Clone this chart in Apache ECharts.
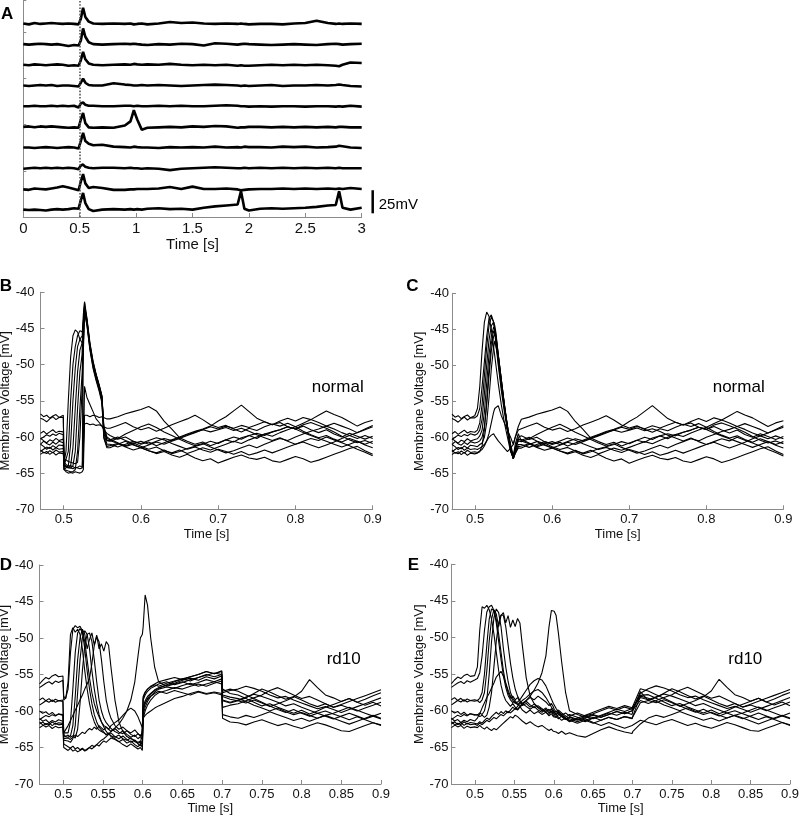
<!DOCTYPE html>
<html>
<head>
<meta charset="utf-8">
<script src="https://cdn.jsdelivr.net/npm/echarts@6/dist/echarts.min.js"></script>
<style>html,body{margin:0;padding:0;background:#fff}#c{width:800px;height:816px}</style>
</head>
<body>
<div id="c"></div>
<script>
// ---------- Panel A: 10 stacked traces, 0..3 s (membrane voltage, mV) ----------
const tA = [0,0.05,0.1,0.15,0.2,0.25,0.3,0.35,0.4,0.45, 0.49,0.51,0.53,0.55,0.58,0.62, 0.7,0.8,0.9, 0.95,0.98,1.01,1.05, 1.1,1.2,1.3,1.4,1.5,1.6,1.7,1.8,1.9, 1.93,1.96, 2.0,2.1,2.2,2.3,2.4,2.5,2.6,2.7, 2.77,2.8,2.83, 2.9,3.0];
const a1 = [-60,-61,-59.5,-60.5,-60,-59.5,-60,-60.5,-60,-60.5, -61,-55,-43,-53,-58,-60, -60.5,-60,-60.5, -60,-61,-60.5,-60, -61,-60,-58.5,-59.5,-59,-60,-60.5,-60,-60.5, -60,-60.5, -61,-60.5,-60.5,-61,-60,-59.5,-57,-59.5, -60.5,-60,-60.5, -60,-60.5];
const a2 = [-60,-60.5,-60,-59.5,-60,-60.5,-60,-61,-62,-61, -61.5,-56,-43,-52,-58,-60, -60.5,-60,-59.5, -60,-59.5,-60,-60.5, -61,-60,-60.5,-59.5,-60,-61.5,-59,-59.5,-60.5, -60,-59.5, -60,-60.5,-61,-60.5,-60,-60.5,-61,-60, -59.5,-60,-60.5, -60,-59.5];
const a3 = [-60,-60.5,-59.5,-60,-60.5,-60,-59.5,-60,-61,-60.5, -61,-55,-46,-54,-58.5,-60, -60.5,-60,-59.5, -60,-59,-59.5,-60, -59.5,-60,-59,-60,-60.5,-60,-60.5,-60,-61, -60.5,-61, -61,-60.5,-60,-60.5,-60,-60.5,-60,-60.5, -61,-61.5,-60, -57.5,-58];
const a4 = [-60,-60.5,-60,-59.5,-60,-59.5,-60.5,-60,-60,-60.5, -61,-57,-52.5,-57,-59.5,-60, -60,-57.5,-59, -59.5,-60,-60,-59.5, -60,-59.5,-60,-60.5,-60,-59.5,-59,-59.5,-60, -60.5,-60, -60.5,-60,-59.5,-60.5,-60,-60,-59.5,-60, -59.5,-59,-59.5, -60.5,-61];
const a5 = [-60,-60,-59.5,-60,-60,-59.5,-60,-59.5,-60,-59.5, -61.5,-57,-56,-58.5,-59.5,-59.5, -60,-60,-59.5, -59.5,-60,-59.5,-60, -60,-59.5,-60,-59.5,-60,-60,-59.5,-59,-59.5, -60,-60, -60.5,-60,-60.5,-60,-60,-60.5,-60,-60, -60.5,-60,-60.5, -59.5,-60.5];
const a6 = [-60,-59.5,-60.5,-59.5,-60,-59.5,-60,-60.5,-61,-60.5, -61,-52,-45,-56,-60.5,-61, -60.5,-61,-58.5, -54,-42,-52,-63, -61,-60.5,-60,-60.5,-59.5,-60,-59,-59.5,-61, -60.5,-60.5, -60,-60,-60.5,-60,-60.5,-60,-60.5,-60, -60.5,-60,-60, -60.5,-60.5];
const a7 = [-60,-60,-60.5,-60,-59.5,-60,-60.5,-60,-59.5,-60, -61,-53,-44,-53,-56,-57.5, -57,-59,-59.5, -60,-59,-59.5,-60, -60,-60.5,-59.5,-60,-59.5,-60,-59,-60,-59.5, -60,-59, -59.5,-59.5,-60,-59,-59.5,-59,-60,-59.5, -59,-58,-58.5, -60,-60.5];
const a8 = [-60.5,-60,-59.5,-60,-59.5,-60,-59.5,-60,-59.5,-60, -61,-57,-56,-58.5,-59.5,-60, -59.5,-59.5,-60, -59.5,-60,-60,-60.5, -60,-60.5,-62,-60.5,-60,-59.5,-59,-59.5,-60, -60,-59.5, -60,-59.5,-60,-59.5,-60,-59.5,-60,-59.5, -60,-59.5,-60, -60,-60];
const a9 = [-60.5,-61,-59.5,-60,-60.5,-59.5,-58.5,-57,-58.5,-60, -61.5,-52,-44,-54,-59,-58, -59,-61,-61, -60.5,-60.5,-60,-60, -60,-59.5,-58,-60,-57.5,-60,-60,-59.5,-60.5, -61.5,-61, -60.5,-60,-60,-59.5,-60,-59.5,-60,-59.5, -60,-59.5,-60, -59,-60];
const a10 = [-60,-60.5,-60,-60.5,-61,-60,-59.5,-60,-59.5,-58.5, -59,-50,-42,-53,-59.5,-61.5, -60,-59.5,-60, -59.5,-60,-59.5,-60, -59,-58.5,-59.5,-59,-60,-58,-56.5,-55.5,-54.5, -40,-59, -61,-59,-58.5,-59,-58.5,-58,-57,-55.5, -55,-40,-58, -60,-58];
const aTraces = [a1,a2,a3,a4,a5,a6,a7,a8,a9,a10];
const aXTicks = [0,0.5,1,1.5,2,2.5,3];

// ---------- Shared pre-stimulus time base (B-E) ----------
const tPre = [0.47,0.474,0.478,0.482,0.486,0.49,0.494,0.4995];

// ---------- normal (B, C) ----------
const nPre = [
 [-56.8,-57.2,-57.0,-57.4,-57.1,-56.9,-57.3,-57.0],
 [-57.4,-57.6,-57.9,-57.5,-57.2,-57.6,-57.3,-57.3],
 [-59.5,-59.2,-59.6,-59.3,-59.0,-59.4,-59.2,-59.3],
 [-60.3,-60.0,-59.7,-59.9,-59.6,-59.8,-59.5,-59.7],
 [-61.0,-60.6,-60.8,-60.4,-60.6,-60.2,-60.5,-60.3],
 [-60.2,-60.5,-60.9,-61.1,-60.7,-61.0,-60.6,-60.8],
 [-62.0,-61.7,-61.4,-61.6,-61.2,-61.5,-61.1,-61.2],
 [-61.0,-61.3,-61.7,-61.4,-61.8,-61.5,-61.7,-61.6],
 [-62.4,-62.1,-62.3,-61.9,-62.2,-61.8,-62.1,-62.0],
 [-61.8,-62.2,-62.0,-62.4,-62.1,-62.5,-62.2,-62.3]
];
const tNSpike = [0.5005,0.503,0.506,0.509,0.512,0.515,0.518,0.521,0.524,0.5255,0.527,0.53,0.534,0.538,0.542,0.546,0.5495,0.552,0.556];
const bSpike = [
 [-63.5,-62,-55,-49,-46,-45.2,-45.5,-46.5,-47,-63,-53,-54.5,-55.5,-56.5,-57.5,-58,-58.5,-59,-59.5],
 [-64,-64,-62,-55,-50,-47.5,-46,-45.3,-45.5,-44,-42,-44,-47.5,-50,-51.5,-53,-54.5,-59,-60.5],
 [-64.5,-64.5,-64,-61,-55,-50.5,-47.5,-46.5,-46,-43,-41.3,-43.5,-47,-49.5,-51.3,-52.8,-54.3,-58.5,-60],
 [-63.5,-63.8,-64,-64,-61.5,-56,-51,-48,-47,-44,-41.5,-43.8,-47.3,-49.8,-51.5,-53,-54.5,-59,-60.5],
 [-64,-64,-64.2,-64.3,-64,-62,-56,-51,-48.5,-45,-42,-44,-47.5,-50,-51.6,-53.2,-54.8,-59.5,-61],
 [-64.5,-64.6,-64.7,-64.8,-64.8,-64.5,-62,-56,-51,-47,-42.5,-44.3,-47.8,-50.3,-52,-53.5,-55,-60,-61.3],
 [-63,-63.2,-63.4,-63.5,-63.6,-63.7,-63.5,-60,-53,-48,-43,-44.5,-48,-50.5,-52.2,-53.7,-55.3,-60.2,-61.5],
 [-64.5,-64.8,-65,-64.9,-65,-64.8,-64.9,-65,-64.8,-64.5,-57,-57,-57.2,-57,-57.1,-57.3,-57.2,-57.4,-57.5],
 [-63.8,-64,-64.2,-64,-64.1,-64.3,-64.2,-64,-64.2,-64,-58.2,-58.1,-58.3,-58.2,-58.4,-58.3,-58.5,-58.6,-58.8],
 [-64,-64.2,-64.3,-64.3,-64.4,-64.2,-64.3,-64.4,-64.3,-47,-42,-43.7,-47.2,-49.6,-51.4,-52.9,-54.4,-58.8,-60.2]
];
const cSpike = [
 [-57,-56,-53,-48,-44,-42.6,-43.2,-45,-47.5,-48.7,-50,-52.5,-55.5,-58,-60,-62,-62.8,-61.5,-60],
 [-57.3,-57,-56,-53,-49.5,-46,-43.5,-43,-44,-45.5,-47,-50,-53.5,-56.5,-59,-61.5,-62.7,-61,-59.5],
 [-59.3,-59,-58,-55.5,-51.5,-47.5,-44.5,-43.3,-44,-45,-46.5,-49.5,-53,-56,-58.5,-61,-62.5,-61.5,-60.3],
 [-59.7,-59.5,-59,-57.5,-54,-50,-46.5,-44.5,-44,-44.5,-45.5,-48.5,-52,-55.5,-58.5,-61.3,-62.9,-61.8,-60.5],
 [-60.3,-60.2,-59.8,-59,-56.5,-52.5,-48.5,-46,-44.7,-45,-45.8,-48.5,-52,-55.5,-58.5,-61.5,-63,-62,-61],
 [-60.8,-60.7,-60.5,-60,-58.5,-55.5,-51.5,-48,-46,-45.7,-46.3,-48.8,-52.3,-55.7,-58.8,-61.7,-63,-62.2,-61.3],
 [-61.2,-61.3,-61,-60.8,-60,-58,-54.5,-50.5,-47.5,-46.6,-46.8,-49,-52.5,-56,-59,-61.8,-63,-62.3,-61.5],
 [-61.6,-61.7,-61.5,-61.3,-61,-60.5,-59.5,-58,-56.5,-56,-55.8,-55.6,-57,-58,-59,-60,-61,-60,-58.5],
 [-62,-62.1,-61.9,-61.7,-61.2,-60.5,-60,-59.7,-59.5,-59.8,-60,-60.5,-61,-61.5,-62,-61.5,-61,-60,-59],
 [-62.3,-62.2,-62,-61.2,-59,-55,-50.5,-47,-45.2,-45.3,-46,-48.5,-52,-55.5,-58.5,-61.5,-62.8,-61.8,-60.2]
];
const tNLate = [0.56,0.57,0.58,0.59,0.6, 0.61,0.62,0.63,0.64,0.65, 0.66,0.67,0.68,0.69,0.7, 0.71,0.72,0.73,0.74,0.75, 0.76,0.77,0.78,0.79,0.8, 0.81,0.82,0.83,0.84,0.85, 0.86,0.87,0.88,0.89,0.9];
const nLate = [
 [-59.8,-60.3,-60.0,-60.6,-61.0, -60.7,-61.2,-60.8,-60.4,-60.0, -59.6,-59.2,-58.9,-58.5,-57.8, -57.2,-56.4,-55.6,-56.5,-57.4, -57.9,-58.3,-58.0,-58.6,-58.9, -58.5,-59.0,-59.4,-59.0,-59.6, -60.0,-59.5,-59.9,-60.3,-59.9],
 [-60.5,-60.9,-61.2,-60.8,-61.3, -61.7,-61.4,-61.9,-62.2,-61.8, -62.3,-61.9,-61.5,-61.8,-61.4, -61.0,-60.6,-60.9,-60.4,-60.0, -59.6,-59.9,-59.4,-59.0,-58.6, -58.1,-57.6,-57.0,-56.4,-56.9, -57.3,-57.9,-58.5,-58.0,-57.7],
 [-60.3,-60.8,-61.3,-61.0,-61.5, -61.9,-62.2,-61.8,-62.3,-62.0, -61.6,-61.3,-61.0,-60.6,-60.9, -60.4,-60.0,-60.3,-59.8,-59.5, -59.8,-59.3,-59.0,-58.6,-58.9, -59.4,-59.8,-60.2,-60.6,-61.0, -61.4,-61.0,-60.6,-61.1,-61.5],
 [-60.6,-60.2,-59.6,-59.1,-58.6, -58.2,-58.7,-59.3,-59.8,-60.3, -60.8,-61.2,-60.9,-61.4,-61.8, -62.2,-61.9,-61.5,-61.1,-61.5, -61.0,-60.6,-60.2,-60.5,-60.0, -59.6,-59.2,-58.9,-58.5,-58.1, -58.5,-58.9,-59.4,-59.0,-58.6],
 [-61.0,-61.4,-61.0,-60.6,-60.9, -60.5,-60.1,-60.4,-60.9,-61.3, -61.7,-61.4,-61.8,-62.1,-61.7, -62.0,-62.4,-62.0,-62.5,-62.2, -61.8,-62.2,-61.8,-61.4,-61.0, -60.6,-60.2,-60.5,-60.0,-60.4, -60.8,-61.2,-61.7,-62.1,-62.6],
 [-61.2,-60.9,-61.4,-61.8,-61.5, -61.1,-60.7,-61.0,-60.6,-60.2, -59.8,-59.4,-59.0,-59.3,-59.0, -58.7,-59.1,-58.8,-59.2,-59.7, -60.1,-60.5,-60.1,-60.6,-61.0, -60.7,-61.1,-61.5,-61.1,-60.7, -60.2,-59.8,-59.4,-58.9,-58.4],
 [-61.5,-61.0,-60.6,-61.1,-61.5, -61.9,-62.3,-62.0,-62.5,-62.8, -62.4,-62.9,-63.3,-63.0,-63.6, -63.2,-62.8,-62.5,-62.9,-63.1, -62.8,-63.3,-63.5,-63.1,-62.7, -63.0,-63.5,-63.2,-62.8,-62.4, -62.0,-61.6,-61.3,-61.9,-62.4],
 [-57.5,-57.2,-56.8,-56.5,-56.2, -55.8,-56.4,-57.8,-58.9,-60.1, -60.6,-61.0,-60.7,-61.2,-60.8, -60.4,-60.7,-60.1,-59.8,-60.2, -59.6,-59.3,-59.0,-58.6,-58.9, -58.3,-58.0,-58.4,-58.8,-59.3, -59.9,-60.4,-60.8,-60.5,-60.9],
 [-58.8,-58.4,-58.0,-58.6,-59.0, -58.7,-59.2,-58.8,-58.3,-57.9, -57.5,-57.0,-57.6,-58.3,-58.7, -58.4,-58.9,-59.3,-58.8,-59.1, -58.6,-58.2,-58.5,-58.1,-58.6, -59.2,-59.7,-60.1,-59.8,-60.3, -60.7,-60.2,-60.6,-61.0,-60.6],
 [-60.4,-60.0,-60.5,-60.9,-60.6, -61.0,-60.6,-60.2,-60.5,-60.1, -59.7,-59.3,-59.0,-58.6,-58.9, -58.5,-58.8,-58.4,-58.7,-58.3, -57.9,-58.3,-57.8,-57.4,-57.8, -57.3,-57.6,-58.0,-58.5,-58.9, -59.4,-59.8,-60.2,-59.8,-60.2]
];
const bcXTicks = [0.5,0.6,0.7,0.8,0.9];

// ---------- rd10 (D, E) ----------
const rPre = [
 [-56.3,-55.8,-55.4,-55.6,-55.2,-55.0,-55.3,-55.2],
 [-56.8,-56.5,-56.2,-56.0,-56.3,-55.9,-56.1,-55.8],
 [-58.5,-58.2,-58.6,-58.3,-58.7,-58.4,-58.6,-58.5],
 [-59.2,-58.9,-58.6,-58.8,-58.5,-58.8,-58.6,-58.7],
 [-60.0,-60.3,-60.1,-60.5,-60.2,-60.6,-60.4,-60.5],
 [-61.2,-60.9,-60.6,-60.8,-60.5,-60.7,-60.4,-60.6],
 [-61.0,-61.4,-61.2,-61.6,-61.3,-61.5,-61.2,-61.4],
 [-61.8,-61.5,-61.9,-61.6,-62.0,-61.7,-61.9,-61.8],
 [-62.3,-62.0,-61.7,-61.9,-61.5,-61.8,-61.6,-61.7],
 [-61.5,-61.9,-62.2,-62.0,-62.4,-62.1,-62.3,-62.2]
];
const tRMid = [0.5005,0.503,0.506,0.509,0.512,0.515,0.518,0.521,0.524,0.527,0.53,0.533,0.536,0.539,0.542,0.545,0.548,0.551,0.554,0.557, 0.56,0.565,0.57,0.575,0.58,0.585,0.59, 0.594,0.597,0.5995, 0.6005,0.603,0.606,0.61,0.615,0.62, 0.63,0.64,0.65,0.66,0.67,0.68,0.69, 0.6995,0.7005,0.71];
const dMid = [
 [-58.0,-58.3,-56,-49.5,-48.6,-49.2,-48.8,-49.5,-51.5,-54.5,-57,-59,-60.5,-61.5,-62.2,-62.6,-62.8,-63,-63.2,-63.1, -63.4,-63.6,-63.3,-63.8,-64.0,-63.7,-64.2, -64.4,-64.3,-64.6, -59.5,-58.6,-58.0,-57.6,-57.1,-56.8, -56.5,-56.2,-55.8,-55.5,-55.8,-55.3,-55.6, -55.2,-57.5,-57.2],
 [-58.5,-58.2,-57,-52,-48.8,-48.3,-48.6,-48.4,-49,-50.5,-53,-55.5,-57.5,-59,-60,-60.8,-61.5,-62,-62.2,-62.5, -62.8,-62.4,-62.9,-63.1,-62.7,-63.2,-63.5, -63.1,-63.4,-63.0, -58.0,-57.4,-57.0,-56.7,-56.4,-56.6, -56.2,-55.9,-55.6,-55.9,-55.4,-55.1,-54.8, -55.0,-58.5,-58.8],
 [-63.0,-63.2,-63.0,-61.5,-57,-52,-49.3,-48.7,-49.2,-51.5,-54.5,-57.0,-59.0,-60.5,-61.5,-62.2,-62.6,-62.9,-63.3,-63.0, -63.5,-63.8,-64.2,-63.9,-64.4,-64.1,-64.6, -64.9,-64.5,-65.0, -60.5,-59.5,-58.7,-58.0,-57.4,-57.0, -56.7,-56.9,-56.5,-56.2,-56.6,-56.3,-56.0, -56.3,-59.5,-59.2],
 [-63.5,-63.3,-63.6,-63.4,-62,-58,-53,-50,-48.8,-49.5,-51.5,-50.2,-49.3,-51,-49.6,-51.5,-50.8,-51.8,-50.5,-51, -54,-58.5,-61.5,-62.8,-63.5,-63.8,-64.0, -64.3,-64.1,-64.4, -60.0,-59.0,-58.3,-57.7,-57.2,-56.9, -56.4,-56.0,-55.6,-55.3,-55.0,-54.6,-54.9, -54.6,-57.0,-57.6],
 [-64.0,-64.2,-64.1,-64.3,-63.8,-62,-57.5,-53,-50,-49.0,-49.5,-51.5,-54.5,-57.0,-59.0,-60.5,-61.5,-62.2,-62.8,-63.2, -63.0,-63.5,-63.8,-63.4,-63.9,-64.3,-64.0, -64.5,-64.8,-64.6, -61.0,-60.0,-59.2,-58.5,-57.9,-57.5, -57.2,-56.8,-57.0,-56.6,-56.3,-56.6,-56.2, -55.9,-58.0,-58.4],
 [-63.2,-63.5,-63.3,-63.6,-63.4,-63.7,-62.5,-59,-54.5,-51,-49.5,-49.3,-50.5,-53,-56,-58.5,-60.0,-61.0,-61.6,-62.0, -62.4,-62.8,-63.1,-62.7,-63.2,-63.6,-63.3, -63.8,-63.5,-63.9, -59.8,-58.9,-58.4,-58.0,-57.6,-57.3, -57.6,-57.2,-57.5,-57.8,-57.4,-57.7,-57.5, -57.8,-61.0,-61.5],
 [-63.0,-62.8,-62.0,-61.3,-60.6,-59.9,-59.2,-58.5,-57.8,-57.0,-56.3,-55.5,-53.5,-51,-49.8,-50.5,-53,-56,-58.5,-60.0, -61.0,-62.0,-62.5,-62.2,-62.7,-63.0,-62.6, -63.1,-63.4,-63.0, -58.5,-57.8,-57.3,-56.9,-56.6,-56.3, -56.0,-56.4,-56.1,-55.7,-55.4,-55.0,-55.3, -55.0,-57.8,-58.1],
 [-64.5,-64.7,-64.9,-65.1,-64.8,-65.2,-65.0,-65.3,-65.1,-65.4,-65.2,-65.0,-64.7,-64.9,-64.6,-64.3,-64.0,-63.8,-63.5,-63.2, -62.8,-62.3,-61.8,-61.0,-60.0,-58.5,-56.0, -52.5,-50.0,-49.5, -48.5,-44.1,-45.5,-50.0,-54.0,-56.0, -56.6,-56.3,-56.0,-56.4,-56.1,-55.7,-56.0, -55.6,-58.6,-58.9],
 [-63.8,-64.0,-63.7,-63.9,-63.6,-63.3,-63.5,-63.2,-62.9,-63.1,-62.7,-62.4,-62.6,-62.2,-62.5,-62.0,-62.3,-62.6,-62.2,-62.5, -62.0,-61.6,-61.2,-60.6,-60.0,-59.6,-60.0, -60.8,-61.6,-62.3, -58.2,-57.5,-57.0,-56.6,-56.3,-56.0, -55.7,-55.4,-55.7,-55.3,-55.0,-54.6,-54.9, -54.5,-57.3,-57.0],
 [-65.0,-65.2,-65.4,-65.1,-65.5,-65.3,-65.6,-65.4,-65.2,-65.5,-65.3,-65.0,-65.2,-64.9,-64.6,-64.8,-64.4,-64.1,-64.3,-64.0, -63.7,-63.9,-64.2,-64.6,-64.9,-64.5,-64.9, -65.2,-65.0,-65.4, -61.0,-60.6,-60.3,-60.0,-59.6,-59.3, -58.8,-58.3,-58.0,-57.6,-57.3,-57.6,-57.4, -57.6,-60.5,-60.8]
];
const eMid = [
 [-55.0,-54,-49,-45.8,-46.0,-45.6,-46.2,-47.5,-49.5,-52,-54.5,-56.5,-57.8,-58.6,-59.0,-59.4,-59.0,-59.5,-59.8,-59.4, -59.9,-60.3,-59.9,-60.4,-60.1,-60.5,-60.2, -60.7,-60.4,-60.8, -60.6,-60.9,-60.5,-60.8,-61.2,-60.8, -61.2,-60.8,-61.1,-60.7,-60.3,-60.6,-60.2, -60.5,-60.0,-57.6],
 [-55.9,-55.6,-54.8,-52.5,-49,-46.5,-45.8,-45.6,-46.3,-48.0,-50.5,-53.0,-55.2,-56.8,-57.9,-58.5,-58.9,-58.6,-59.1,-59.4, -59.0,-59.4,-59.8,-59.4,-59.9,-60.2,-59.8, -60.3,-60.0,-60.4, -60.2,-60.6,-60.2,-60.6,-60.3,-60.7, -60.3,-60.7,-60.4,-60.0,-59.6,-59.9,-59.5, -59.8,-59.5,-58.2],
 [-58.4,-58.6,-58.3,-57.5,-55.0,-51.0,-47.5,-46.1,-46.3,-47.5,-49.5,-52.0,-54.5,-56.3,-57.5,-58.3,-58.0,-58.5,-58.2,-58.7, -59.1,-58.7,-59.2,-59.6,-59.3,-59.7,-60.1, -59.8,-60.2,-59.9, -60.3,-60.0,-60.4,-60.8,-61.2,-60.9, -61.3,-61.0,-60.6,-60.9,-60.5,-60.1,-60.4, -60.0,-59.8,-58.6],
 [-58.8,-58.6,-58.9,-58.5,-57.5,-54.5,-50.5,-47.5,-46.2,-46.8,-48.5,-47.0,-46.6,-48.0,-47.0,-48.6,-47.6,-48.5,-47.4,-48.0, -51.0,-55.5,-58.0,-59.0,-59.5,-59.8,-60.2, -60.5,-60.1,-60.6, -60.4,-60.8,-61.1,-60.7,-61.1,-61.5, -61.1,-61.5,-61.0,-60.6,-60.2,-59.8,-60.1, -59.7,-59.5,-57.9],
 [-60.4,-60.6,-60.3,-60.5,-60.0,-58.5,-55,-50.5,-47.3,-46.1,-46.6,-48.5,-51.5,-54.0,-56.0,-57.5,-58.3,-58.8,-59.2,-58.8, -59.3,-59.0,-59.5,-59.1,-59.6,-60.0,-59.6, -60.1,-59.7,-60.2, -60.0,-60.5,-60.1,-60.5,-60.9,-60.5, -60.9,-61.3,-60.9,-61.3,-60.9,-61.2,-60.8, -61.1,-60.8,-58.9],
 [-60.7,-60.5,-60.8,-60.6,-60.9,-60.6,-59.5,-57.5,-54,-50.5,-48,-46.9,-47.0,-48.5,-51.0,-53.5,-55.5,-57.0,-58.0,-58.6, -59.0,-58.6,-58.2,-58.5,-58.0,-58.4,-58.8, -59.3,-59.0,-59.5, -59.8,-60.2,-59.9,-60.3,-60.7,-61.1, -61.5,-61.1,-61.6,-62.0,-61.6,-62.0,-62.4, -62.0,-61.8,-61.3],
 [-61.3,-61.0,-60.4,-59.6,-58.9,-58.2,-57.6,-56.9,-56.2,-55.4,-55.0,-54.6,-55.3,-56.2,-57.2,-58.0,-58.6,-59.0,-58.8,-58.5, -58.0,-57.2,-56.4,-55.9,-55.6,-55.8,-56.6, -57.6,-58.4,-59.0, -59.2,-59.7,-60.1,-60.6,-61.0,-61.3, -61.7,-61.3,-61.7,-61.3,-60.9,-61.2,-60.8, -61.0,-60.7,-58.0],
 [-61.8,-62.0,-61.7,-61.9,-61.6,-61.3,-61.5,-61.2,-60.9,-61.1,-60.8,-60.5,-60.7,-60.4,-60.1,-60.3,-60.0,-59.7,-59.9,-59.5, -59.2,-58.6,-58.0,-57.2,-56.2,-54.8,-52.5, -48.5,-46.3,-46.2, -46.4,-47.0,-49.5,-53.3,-57.5,-60.0, -60.5,-60.9,-60.5,-60.9,-60.5,-60.1,-60.4, -60.0,-59.8,-57.4],
 [-61.6,-61.8,-61.5,-61.7,-61.3,-61.0,-61.2,-60.8,-60.5,-60.2,-60.5,-60.1,-60.4,-60.0,-60.3,-59.9,-59.5,-59.8,-59.4,-59.0, -58.6,-58.2,-57.7,-57.3,-57.1,-57.5,-58.2, -58.9,-59.5,-59.9, -60.1,-60.5,-60.9,-61.3,-61.0,-61.4, -61.0,-60.6,-60.2,-59.8,-59.4,-59.7,-59.3, -59.6,-59.4,-57.0],
 [-62.1,-62.3,-62.0,-62.3,-62.5,-62.2,-62.5,-62.7,-62.4,-62.6,-62.3,-62.0,-61.7,-61.4,-61.1,-60.8,-61.0,-60.6,-60.8,-61.1, -61.4,-61.8,-61.5,-61.9,-62.2,-62.0,-62.4, -62.7,-62.5,-62.8, -62.6,-62.9,-63.1,-62.8,-63.2,-63.0, -63.4,-63.6,-63.1,-62.6,-62.2,-62.6,-62.9, -63.1,-62.8,-61.8]
];
const tRLate = [0.72,0.73,0.74,0.75,0.76,0.77,0.78,0.79,0.8,0.81,0.82,0.83,0.84,0.85,0.86,0.87,0.88,0.89,0.9];
const rLate = [
 [-57.0,-56.6,-56.9,-57.3,-57.8,-58.2,-58.0,-58.5,-58.9,-59.3,-59.7,-59.4,-59.8,-60.2,-59.8,-59.4,-59.0,-58.6,-58.2],
 [-58.5,-58.1,-57.7,-58.0,-58.4,-58.8,-59.3,-59.0,-59.5,-59.9,-60.3,-60.0,-60.4,-60.8,-61.2,-60.8,-61.2,-61.6,-62.0],
 [-59.0,-58.6,-58.2,-57.8,-57.2,-56.8,-57.3,-57.8,-58.3,-58.0,-58.5,-59.0,-59.5,-59.2,-59.6,-60.0,-59.6,-59.2,-58.8],
 [-57.8,-58.3,-58.8,-59.3,-59.0,-59.5,-59.9,-60.3,-59.9,-60.4,-60.0,-59.5,-59.1,-58.7,-58.3,-58.8,-58.4,-57.9,-57.5],
 [-58.6,-58.9,-58.5,-58.9,-59.4,-59.0,-58.6,-58.1,-57.3,-55.7,-56.8,-57.8,-58.2,-58.7,-58.3,-58.8,-59.2,-58.8,-59.3],
 [-61.6,-61.9,-61.5,-61.2,-61.6,-62.0,-61.7,-62.1,-62.4,-62.0,-61.6,-61.9,-62.3,-62.7,-62.8,-62.4,-62.0,-61.6,-61.9],
 [-58.3,-58.7,-59.2,-59.6,-60.0,-59.6,-60.1,-60.5,-60.2,-60.6,-61.0,-60.6,-60.3,-59.9,-59.5,-59.9,-60.3,-60.7,-61.1],
 [-58.6,-58.2,-57.6,-57.0,-57.4,-57.9,-58.4,-58.0,-58.5,-59.0,-59.4,-59.0,-59.5,-59.1,-58.7,-58.3,-57.9,-57.5,-57.1],
 [-57.3,-57.8,-58.3,-58.8,-59.3,-59.8,-60.2,-59.8,-60.3,-60.7,-60.3,-60.7,-61.1,-60.7,-60.3,-60.7,-61.1,-60.7,-60.3],
 [-61.0,-60.6,-60.9,-60.5,-60.1,-60.5,-60.9,-61.3,-61.0,-61.4,-61.0,-60.6,-61.0,-61.4,-61.8,-61.4,-61.0,-60.6,-61.0]
];
const deXTicks = [0.5,0.55,0.6,0.65,0.7,0.75,0.8,0.85,0.9];

// ---------- build ----------
const FONT = "'Liberation Sans', Arial, Helvetica, sans-serif";
const AX = '#8a8a8a', TX = '#111';
const zip = (t, v) => t.map((x, i) => [x, v[i]]);
const chart = echarts.init(document.getElementById('c'), null, {renderer: 'canvas'});

const grids = [
  {left: 23.3, top: 0, width: 338.4, height: 217},
  {left: 40.5, top: 292.3, width: 332.2, height: 217},
  {left: 452, top: 293.3, width: 331.4, height: 216},
  {left: 39.5, top: 565, width: 341.5, height: 219},
  {left: 451.4, top: 564.3, width: 338.6, height: 219.7}
].map(g => Object.assign({outerBoundsMode: 'none', containLabel: false, show: false}, g));

function xAx(gi, ticks, gap, fs) {
  return {
    gridIndex: gi, type: 'value', min: gi === 0 ? 0 : 0.47, max: gi === 0 ? 3 : 0.9,
    interval: gi === 0 ? 0.5 : undefined,
    axisLine: {show: true, onZero: false, lineStyle: {color: AX, width: 1}},
    axisTick: {show: true, inside: true, length: 4, customValues: ticks, lineStyle: {color: AX}},
    axisLabel: {show: true, customValues: ticks, color: TX, fontSize: fs, fontFamily: FONT, margin: 4},
    splitLine: {show: false},
    name: 'Time [s]', nameLocation: 'middle', nameGap: gap,
    nameTextStyle: {color: TX, fontSize: fs, fontFamily: FONT}
  };
}
function yAx(gi, margin, gap) {
  return {
    gridIndex: gi, type: 'value', min: -70, max: -40, interval: 5,
    axisLine: {show: true, onZero: false, lineStyle: {color: AX, width: 1}},
    axisTick: {show: true, inside: true, length: 4, lineStyle: {color: AX}},
    axisLabel: {show: true, color: TX, fontSize: 13, fontFamily: FONT, margin: margin},
    splitLine: {show: false},
    name: 'Membrane Voltage [mV]', nameLocation: 'middle', nameGap: gap, nameRotate: 90,
    nameTextStyle: {color: TX, fontSize: 13, fontFamily: FONT}
  };
}
const xAxis = [xAx(0, aXTicks, 19, 15), xAx(1, bcXTicks, 19, 13), xAx(2, bcXTicks, 19, 13), xAx(3, deXTicks, 16, 13), xAx(4, deXTicks, 16, 13)];
const yAxis = [
  {gridIndex: 0, type: 'value', min: 0, max: 235, interval: 50,
   axisLine: {show: true, onZero: false, lineStyle: {color: AX, width: 1}},
   axisTick: {show: true, inside: true, length: 3, lineStyle: {color: AX}},
   axisLabel: {show: false}, splitLine: {show: false}},
  yAx(1, 6, 27), yAx(2, 3, 25), yAx(3, 6, 25.5), yAx(4, 3, 25)
];

const series = [];
aTraces.forEach((tr, i) => {
  const off = 60 + 8 + (9 - i) * 22.4;   // stacking offset of trace i
  const s = {
    type: 'line', xAxisIndex: 0, yAxisIndex: 0, symbol: 'none', silent: true, z: 3,
    lineStyle: {color: '#000', width: 2.6}, data: tA.map((t, j) => [t, tr[j] + off])
  };
  if (i === 0) {
    s.markLine = {silent: true, symbol: ['none', 'none'], label: {show: false},
      lineStyle: {type: 'dotted', color: '#555', width: 1.6}, data: [{xAxis: 0.5}]};
  }
  series.push(s);
});
function addPanel(gi, pre, mid, late, tMid, tLate) {
  for (let i = 0; i < 10; i++) {
    const d = zip(tPre, pre[i]).concat(zip(tMid, mid[i]), zip(tLate, late[i]));
    series.push({type: 'line', xAxisIndex: gi, yAxisIndex: gi, symbol: 'none', silent: true,
      lineStyle: {color: '#000', width: 1.1}, data: d});
  }
}
addPanel(1, nPre, bSpike, nLate, tNSpike, tNLate);
addPanel(2, nPre, cSpike, nLate, tNSpike, tNLate);
addPanel(3, rPre, dMid, rLate, tRMid, tRLate);
addPanel(4, rPre, eMid, rLate, tRMid, tRLate);

chart.setOption({
  animation: false, backgroundColor: '#fff',
  grid: grids, xAxis: xAxis, yAxis: yAxis, series: series
});

// annotations: panel letters, condition labels, scale bar
const p0 = chart.convertToPixel({gridIndex: 0}, [3, 4]);
const p1 = chart.convertToPixel({gridIndex: 0}, [3, 29]);
const txt = (x, y, s, fs, bold, align) => ({type: 'text', x: x, y: y, silent: true,
  style: {text: s, fill: '#000', fontSize: fs, fontFamily: FONT, fontWeight: bold ? 'bold' : 'normal',
    align: align || 'center', verticalAlign: 'middle'}});
chart.setOption({graphic: [
  txt(7.2, 14.5, 'A', 17, true), txt(5.8, 286.7, 'B', 17, true), txt(412.3, 286, 'C', 17, true),
  txt(5.8, 565, 'D', 17, true), txt(413.3, 565.8, 'E', 17, true),
  txt(311.7, 387, 'normal', 17, false, 'left'), txt(712.7, 387, 'normal', 17, false, 'left'),
  txt(326.7, 659, 'rd10', 17, false, 'left'), txt(728.3, 659, 'rd10', 17, false, 'left'),
  {type: 'line', silent: true, shape: {x1: p0[0] + 11, y1: p0[1], x2: p1[0] + 11, y2: p1[1]},
   style: {stroke: '#000', lineWidth: 2.5}},
  txt(p0[0] + 17, (p0[1] + p1[1]) / 2 + 3, '25mV', 15, false, 'left')
]});
</script>
</body>
</html>
